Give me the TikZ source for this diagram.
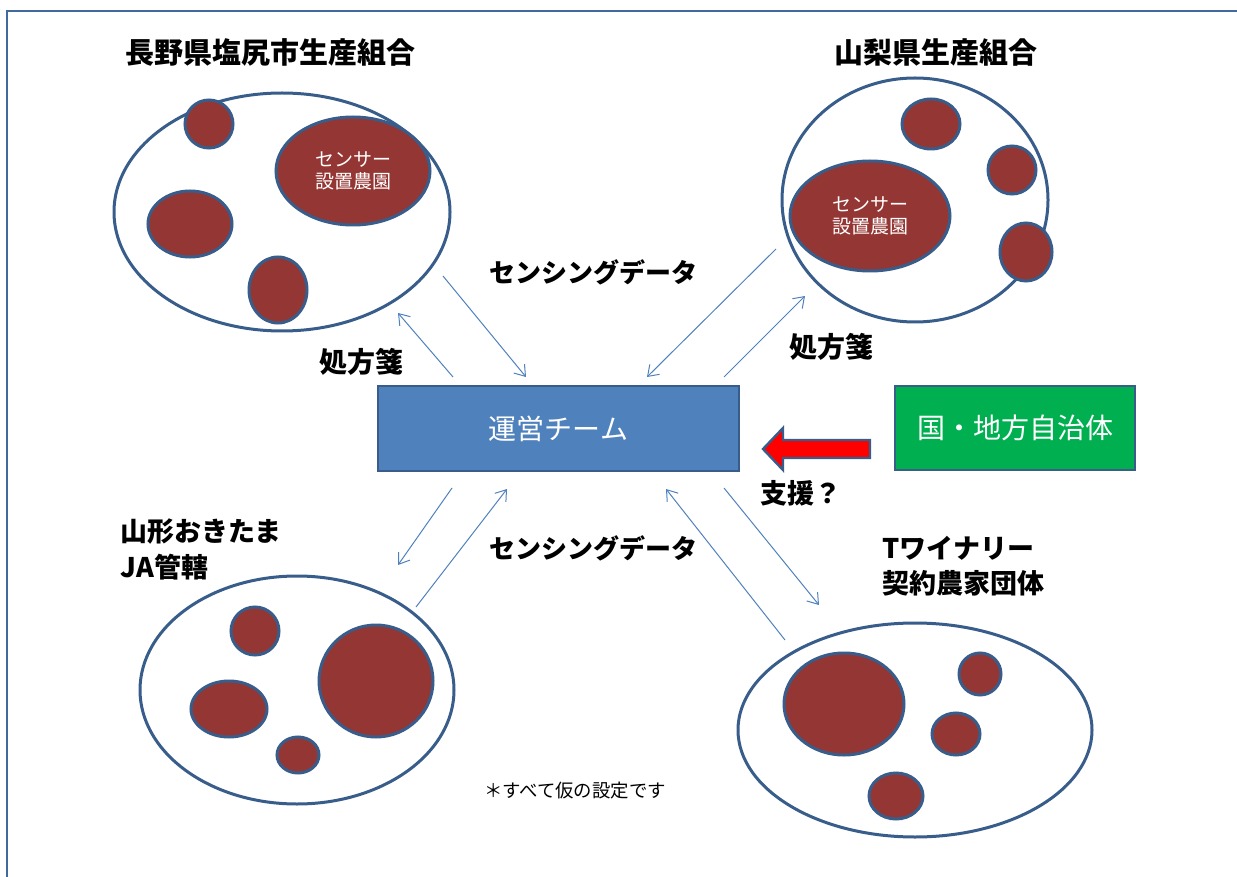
\documentclass[tikz,border=0pt]{standalone}
\usepackage{fontspec}
\setmainfont{Noto Sans CJK JP}
\usetikzlibrary{shapes.geometric,arrows.meta}
\definecolor{bord}{HTML}{385D8A}
\definecolor{farmred}{HTML}{943634}
\definecolor{opsblue}{HTML}{4F81BD}
\definecolor{govgreen}{HTML}{00B050}
\definecolor{frameblue}{HTML}{41699E}
\tikzset{
  group/.style={ellipse, draw=bord, fill=white, line width=1.5pt, inner sep=0pt},
  farm/.style={ellipse, draw=bord, fill=farmred, line width=1.5pt, inner sep=0pt,
    text=white, align=center, font=\fontsize{9.5}{11}\selectfont},
  lbl/.style={inner sep=0pt, font=\fontsize{14}{18}\selectfont\bfseries},
  flow/.style={draw=opsblue, line width=0.5pt, -{Straight Barb[length=5pt,width=7pt]}},
  boxnode/.style={rectangle, draw=bord, line width=1.2pt, inner sep=0pt, text=white,
    font=\fontsize{14}{16}\selectfont},
}
\begin{document}
\begin{tikzpicture}[x=0.5pt,y=-0.5pt]
\useasboundingbox (0,0) rectangle (1237,877);
% frame
\draw[frameblue, line width=1.3pt] (7,877) -- (7,11) -- (1237,11);

% Nagano
\node[group, minimum width=168pt, minimum height=119pt] (nagano) at (282,212) {};
\node[farm, minimum width=24pt, minimum height=24pt] (na) at (209,124) {};
\node[farm, minimum width=42pt, minimum height=33pt] (nb) at (190,224) {};
\node[farm, minimum width=29pt, minimum height=33pt] (nc) at (278,290) {};
\node[farm, minimum width=77pt, minimum height=54pt] (ns) at (353,171) {センサー\\設置農園};

% Yamanashi
\node[group, minimum width=133pt, minimum height=122pt] (yamanashi) at (915,200) {};
\node[farm, minimum width=80pt, minimum height=55pt] (ys) at (870,216) {センサー\\設置農園};
\node[farm, minimum width=29pt, minimum height=25pt] (ya) at (931,124) {};
\node[farm, minimum width=24pt, minimum height=24pt] (yb) at (1012,170) {};
\node[farm, minimum width=26pt, minimum height=29pt] (yc) at (1026,252) {};

% Yamagata
\node[group, minimum width=157pt, minimum height=114pt] (yamagata) at (297,690) {};
\node[farm, minimum width=24pt, minimum height=24pt] (ga) at (255,631) {};
\node[farm, minimum width=38pt, minimum height=28pt] (gb) at (229,709) {};
\node[farm, minimum width=57pt, minimum height=56pt] (gc) at (376,681) {};
\node[farm, minimum width=21pt, minimum height=18pt] (gd) at (298,755) {};

% Winery
\node[group, minimum width=177pt, minimum height=107pt] (winery) at (915,730) {};
\node[farm, minimum width=60pt, minimum height=51pt] (wa) at (844,704) {};
\node[farm, minimum width=21pt, minimum height=21pt] (wb) at (980,674) {};
\node[farm, minimum width=24pt, minimum height=21pt] (wc) at (956,734) {};
\node[farm, minimum width=27pt, minimum height=23pt] (wd) at (896,796) {};

% boxes
\node[boxnode, fill=opsblue, minimum width=180.5pt, minimum height=42.5pt] (ops) at (558.5,428.5) {運営チーム};
\node[boxnode, fill=govgreen, minimum width=120pt, minimum height=42pt] (gov) at (1015,428) {国・地方自治体};

% support arrow
\draw[fill=red, draw=bord, line width=1.2pt, line join=miter]
  (870,440) -- (783,440) -- (783,428) -- (763,449) -- (783,470) -- (783,458) -- (870,458) -- cycle;

% labels
\node[lbl, font=\fontsize{14.5}{18}\selectfont\bfseries] (t1) at (270,52) {長野県塩尻市生産組合};
\node[lbl, font=\fontsize{14.5}{18}\selectfont\bfseries] (t2) at (936,52) {山梨県生産組合};
\node[lbl, font=\fontsize{13}{18}\selectfont\bfseries] (s1) at (593,272) {センシングデータ};
\node[lbl, font=\fontsize{13}{18}\selectfont\bfseries] (s2) at (593,548) {センシングデータ};
\node[lbl] (p1) at (361,362) {処方箋};
\node[lbl] (p2) at (831,347) {処方箋};
\node[lbl, font=\fontsize{13.5}{18}\selectfont\bfseries] (sup) at (801,493) {支援？};
\node[lbl, anchor=west, align=left, font=\fontsize{13.5}{18}\selectfont\bfseries] (t3) at (120,549) {山形おきたま\\JA管轄};
\node[lbl, anchor=west, align=left, font=\fontsize{13.5}{17.5}\selectfont\bfseries] (t4) at (882,566) {Tワイナリー\\契約農家団体};
\node[inner sep=0pt, font=\fontsize{9.2}{11}\selectfont] (note) at (575,791) {＊すべて仮の設定です};

% connector end points
\coordinate (a1s) at (443,276); \coordinate (a1e) at (526,377);
\coordinate (a2s) at (453,377); \coordinate (a2e) at (398,313);
\coordinate (a3s) at (776,249); \coordinate (a3e) at (647,377);
\coordinate (a4s) at (724,377); \coordinate (a4e) at (805,296);
\coordinate (a5s) at (452,488); \coordinate (a5e) at (398,565);
\coordinate (a6s) at (416,607); \coordinate (a6e) at (507,489);
\coordinate (a7s) at (785,640); \coordinate (a7e) at (666,489);
\coordinate (a8s) at (724,488); \coordinate (a8e) at (819,605);
\draw[flow] (a1s) -- (a1e);
\draw[flow] (a2s) -- (a2e);
\draw[flow] (a3s) -- (a3e);
\draw[flow] (a4s) -- (a4e);
\draw[flow] (a5s) -- (a5e);
\draw[flow] (a6s) -- (a6e);
\draw[flow] (a7s) -- (a7e);
\draw[flow] (a8s) -- (a8e);
\end{tikzpicture}
\end{document}
